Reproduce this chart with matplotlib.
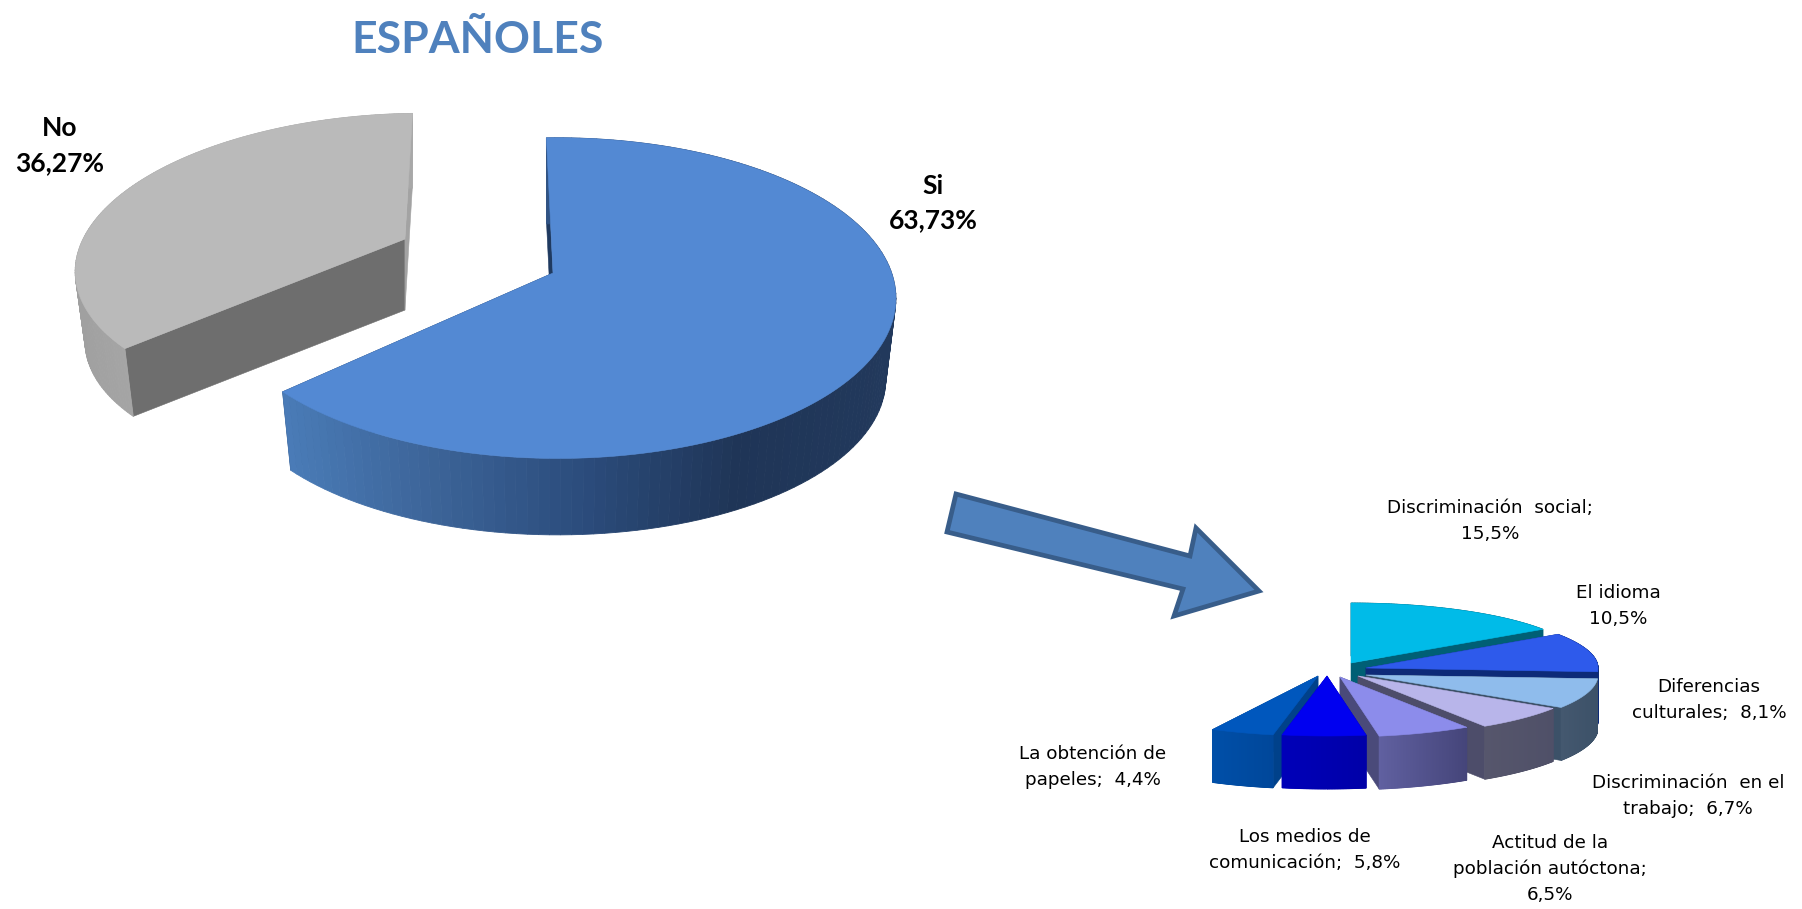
#!/usr/bin/env python3
"""Two fake-3D exploded pies (Si/No and the breakdown of reasons) plus arrow."""
import numpy as np
import matplotlib
matplotlib.use("Agg")
import matplotlib.pyplot as plt
from matplotlib.colors import LinearSegmentedColormap
from matplotlib.patches import Polygon

# data
MAIN_NAMES = ["Si", "No"]
MAIN_VALUES = [63.73, 36.27]
REASON_VALUES = [15.5, 10.5, 8.1, 6.7, 6.5, 5.8, 4.4]
REASON_LABELS = ["Discriminación  social;\n{}", "El idioma\n{}", "Diferencias\nculturales;  {}",
                 "Discriminación  en el\ntrabajo;  {}", "Actitud de la\npoblación autóctona;\n{}",
                 "Los medios de\ncomunicación;  {}", "La obtención de\npapeles;  {}"]

# styles, in reference pixels
MAIN_TOP = ["#5389d3", "#bababa"]
MAIN_RADIAL = [("#1f3a60", "#1f3a60"), ("#6e6e6e", "#a3a3a3")]
MAIN_RIM = [["#4a7cb8", "#3c6498", "#2b4c7c", "#1f3557", "#22395c"],
            ["#a0a0a0", "#b0b0b0", "#a8a8a8"]]
MAIN_EXPLODE = [(0, 0), (-0.453, -0.222)]
MAIN_SHIFT = [(0.012, 0.004), (-0.005, 0.005)]
MAIN_RADIUS = [0.99, 0.98]
MAIN_DEPTH = [82, 71]
MAIN_LABEL_POS = [(933, 203), (60, 146)]

REASON_TOP = ["#00bbe8", "#2e5aeb", "#8fbcec", "#b8b5ea", "#8c8ceb", "#0000f0", "#0057bd"]
REASON_RADIAL = ["#005f75", "#0d2a78", "#3c5168", "#4d4d6a", "#4a4a7a", "#0000a8", "#00418a"]
REASON_RIM = [["#005f75", "#005f75"], ["#0d2a78", "#0d2a78"], ["#44586f", "#3c5168"],
              ["#56566c", "#4f5068"], ["#6060a0", "#45457a"], ["#0000b8", "#0000a8"],
              ["#004fa8", "#00479a"]]
REASON_APEX = [(1351, 663), (1366, 668), (1366, 675), (1358, 676), (1340, 677), (1327, 676), (1318, 676)]
REASON_ORDER = [0, 1, 2, 3, 4, 6, 5]
REASON_LABEL_POS = [(1490, 521), (1618, 606), (1709, 700), (1688, 796), (1550, 869), (1305, 850), (1093, 767)]

ARROW = [(956, 494), (1190, 556), (1196, 528), (1259, 591), (1174, 616), (1183, 589), (947, 532)]

fig = plt.figure(figsize=(18.02, 9.09), dpi=100)
ax = fig.add_axes([0, 0, 1, 1])
ax.set_xlim(0, 1802)
ax.set_ylim(909, 0)
ax.axis("off")


def project(u, v, c, rx, ry, k):
    s = 1 / (1 - k * v)
    return c[0] + rx * u * s, c[1] + ry * v * s


def slice3d(t0, t1, off, c, rx, ry, k, depth, shrink, top, radial, rim, radius=1.0, shift=(0, 0)):
    th = np.radians(np.linspace(t0, t1, 140))
    x, y = project(radius * np.sin(th) + off[0] + shift[0], -radius * np.cos(th) + off[1] + shift[1], c, rx, ry, k)
    ax0, ay0 = project(off[0], off[1], c, rx, ry, k)
    # floor of the slice, pulled in a bit around its own apex
    xb = ax0 + (x - ax0) * shrink
    yb = ay0 + (y - ay0) * shrink + depth
    for j, col in zip((0, -1), radial):
        ax.add_patch(Polygon([(ax0, ay0), (x[j], y[j]), (xb[j], yb[j]), (ax0, ay0 + depth)],
                             fc=col, ec=col, lw=0.4))
    cmap = LinearSegmentedColormap.from_list("rim", rim)
    lo, hi = x.min(), x.max()
    for i in range(len(th) - 1):
        col = cmap((x[i] - lo) / (hi - lo))
        ax.add_patch(Polygon([(x[i], y[i]), (x[i + 1], y[i + 1]), (xb[i + 1], yb[i + 1]), (xb[i], yb[i])],
                             fc=col, ec=col, lw=0.6))
    ax.add_patch(Polygon(np.r_[[(ax0, ay0)], np.c_[x, y]], fc=top, ec=top, lw=0.4))


# main pie, No drawn first because it sits behind
main_edges = np.cumsum([0] + MAIN_VALUES) * 3.6 - 2
for i in (1, 0):
    slice3d(main_edges[i], main_edges[i + 1], MAIN_EXPLODE[i], (553, 273), 338, 158, 0.154,
            MAIN_DEPTH[i], 0.97, MAIN_TOP[i], MAIN_RADIAL[i], MAIN_RIM[i],
            radius=MAIN_RADIUS[i], shift=MAIN_SHIFT[i])
    pct = f"{MAIN_VALUES[i]:.2f}".replace(".", ",")
    ax.text(*MAIN_LABEL_POS[i], f"{MAIN_NAMES[i]}\n{pct}%", ha="center", va="center", family="Lato",
            fontweight="bold", fontsize=19, color="black", linespacing=1.55)

# reasons pie, the rest of the circle is not drawn
reason_edges = np.cumsum([0] + REASON_VALUES) * 3.6
for i in REASON_ORDER:
    off = ((REASON_APEX[i][0] - 1351) / 232, (REASON_APEX[i][1] - 663) / 60)
    col = REASON_RADIAL[i]
    slice3d(reason_edges[i], reason_edges[i + 1], off, (1351, 663), 232, 60, 0, 53, 1.0,
            REASON_TOP[i], (col, col), REASON_RIM[i])
for i, val in enumerate(REASON_VALUES):
    txt = REASON_LABELS[i].format(f"{val:.1f}".replace(".", ",") + "%")
    ax.text(*REASON_LABEL_POS[i], txt, ha="center", va="center", family="DejaVu Sans",
            fontsize=13.2, color="black", linespacing=1.56)

ax.add_patch(Polygon(ARROW, fc="#4f81bd", ec="#385d8a", lw=3.4, joinstyle="miter"))
ax.text(478, 40, "ESPAÑOLES", ha="center", va="center", family="Lato", fontweight="bold",
        fontsize=32, color="#4f81bd")

fig.savefig("out.png", dpi=100, facecolor="white")
